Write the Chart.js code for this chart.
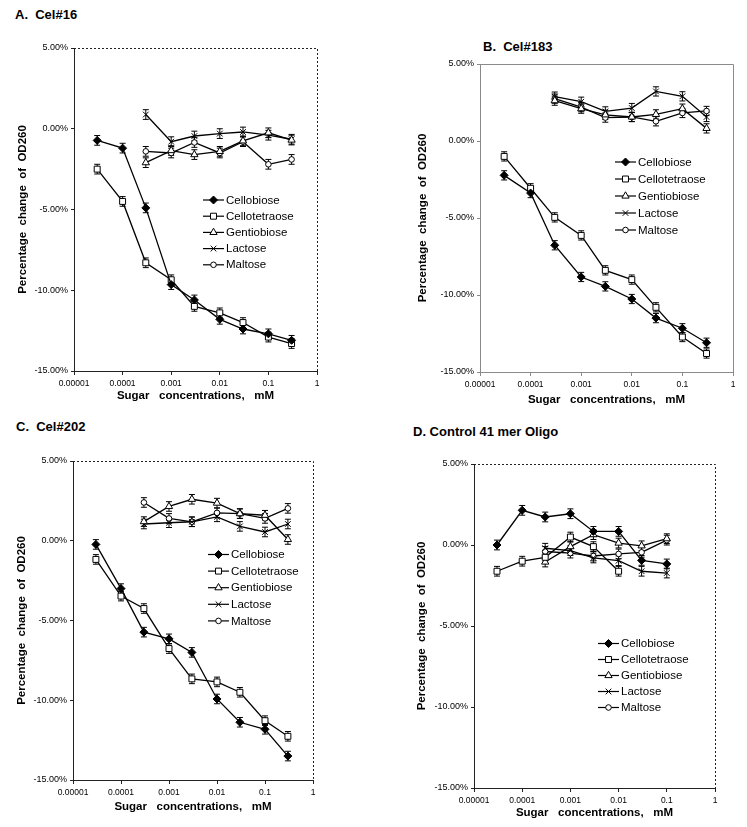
<!DOCTYPE html>
<html>
<head>
<meta charset="utf-8">
<script src="https://cdn.jsdelivr.net/npm/chart.js@4.4.1/dist/chart.umd.min.js"></script>
<style>
  body { margin: 0; background: #fff; width: 747px; height: 827px; position: relative; overflow: hidden;
         font-family: "Liberation Sans", Arial, sans-serif; }
  .panel-title { position: absolute; font-weight: bold; font-size: 13px; line-height: 16px; white-space: pre; color: #000; }
  canvas { position: absolute; }
</style>
</head>
<body>
<div class="panel-title" style="left:15px;top:7px">A.  Cel#16</div>
<div class="panel-title" style="left:483px;top:39px">B.  Cel#183</div>
<div class="panel-title" style="left:16px;top:419px">C.  Cel#202</div>
<div class="panel-title" style="left:413px;top:424px">D. Control 41 mer Oligo</div>

<canvas id="chartA" width="323" height="369" style="left:8px;top:40px"></canvas>
<canvas id="chartB" width="333" height="354" style="left:414px;top:56px"></canvas>
<canvas id="chartC" width="320" height="365" style="left:7px;top:453px"></canvas>
<canvas id="chartD" width="321" height="370" style="left:408px;top:456px"></canvas>

<script>
// konsentrasi gula (mM) dan label sumbu
const conc = [0.00003, 0.0001, 0.0003, 0.001, 0.003, 0.01, 0.03, 0.1, 0.3];
const concD = [0.00003, 0.0001, 0.0003, 0.001, 0.003, 0.01, 0.03, 0.1];
const sugars = ["Cellobiose", "Cellotetraose", "Gentiobiose", "Lactose", "Maltose"];
const xTickValues = [0.00001, 0.0001, 0.001, 0.01, 0.1, 1];
const xTickLabels = ["0.00001", "0.0001", "0.001", "0.01", "0.1", "1"];
const yTickValues = [5, 0, -5, -10, -15];
const yTickLabels = ["5.00%", "0.00%", "-5.00%", "-10.00%", "-15.00%"];
const errBar = 0.3; // setengah panjang error bar (% poin)

// A. Cel#16
const aCellobiose    = [-0.72, -1.2, -4.9, -9.65, -10.6, -11.8, -12.4, -12.7, -13.1];
const aCellotetraose = [-2.5, -4.5, -8.3, -9.35, -11.0, -11.4, -12.0, -12.9, -13.3];
const aGentiobiose   = [null, null, -2.1, -1.35, -1.6, -1.4, -0.75, -0.25, -0.7];
const aLactose       = [null, null, 0.88, -0.8, -0.45, -0.3, -0.2, -0.4, -0.65];
const aMaltose       = [null, null, -1.4, -1.5, -0.85, -1.5, -0.8, -2.2, -1.9];

// B. Cel#183
const bCellobiose    = [-2.23, -3.38, -6.77, -8.83, -9.44, -10.26, -11.5, -12.16, -13.1];
const bCellotetraose = [-1.0, -3.07, -4.96, -6.13, -8.4, -9.0, -10.8, -12.73, -13.8];
const bGentiobiose   = [null, null, 2.62, 2.1, 1.7, 1.56, 1.73, 2.1, 0.82];
const bLactose       = [null, null, 2.88, 2.55, 1.92, 2.14, 3.22, 2.9, 1.56];
const bMaltose       = [null, null, 2.75, 2.2, 1.52, 1.56, 1.28, 1.82, 1.95];

// C. Cel#202
const cCellobiose    = [-0.23, -3.0, -5.73, -6.15, -7.0, -9.92, -11.38, -11.82, -13.5];
const cCellotetraose = [-1.17, -3.47, -4.25, -6.76, -8.66, -8.85, -9.5, -11.28, -12.26];
const cGentiobiose   = [null, null, 1.2, 2.15, 2.6, 2.36, 1.7, 1.6, 0.08];
const cLactose       = [null, null, 1.05, 1.13, 1.19, 1.5, 0.9, 0.55, 1.05];
const cMaltose       = [null, null, 2.4, 1.4, 1.19, 1.75, 1.7, 1.4, 2.03];

// D. Control 41 mer Oligo
const dCellobiose    = [0.0, 2.14, 1.73, 1.93, 0.84, 0.84, -0.95, -1.17];
const dCellotetraose = [-1.62, -1.0, -0.76, 0.49, -0.1, -1.62, null, null];
const dGentiobiose   = [null, null, -1.05, -0.1, 0.64, 0.12, -0.05, 0.39];
const dLactose       = [null, null, -0.2, -0.35, -0.8, -0.97, -1.62, -1.73];
const dMaltose       = [null, null, -0.4, -0.5, -0.68, -0.55, -0.45, 0.3];

const FONT = "'Liberation Sans', Arial, sans-serif";
const markers = [
  { pointStyle: "rectRot", radius: 4, fill: "#000" },
  { pointStyle: "rect", radius: 4.2, fill: "#fff" },
  { pointStyle: "triangle", radius: 4.2, fill: "#fff" },
  { pointStyle: "crossRot", radius: 4, fill: "#000" },
  { pointStyle: "circle", radius: 2.8, fill: "#fff" },
];

// error bar kecil di tiap titik
const errorBars = {
  id: "errorBars",
  beforeDatasetsDraw(chart) {
    const { ctx } = chart;
    const ys = chart.scales.y;
    ctx.save();
    ctx.strokeStyle = "#000";
    ctx.lineWidth = 1;
    chart.data.datasets.forEach((ds, i) => {
      chart.getDatasetMeta(i).data.forEach((pt, j) => {
        const v = ds.data[j].y;
        const y1 = ys.getPixelForValue(v + errBar);
        const y2 = ys.getPixelForValue(v - errBar);
        ctx.beginPath();
        ctx.moveTo(pt.x, y1); ctx.lineTo(pt.x, y2);
        ctx.moveTo(pt.x - 3, y1); ctx.lineTo(pt.x + 3, y1);
        ctx.moveTo(pt.x - 3, y2); ctx.lineTo(pt.x + 3, y2);
        ctx.stroke();
      });
    });
    ctx.restore();
  },
};

// bingkai atas & kanan area plot
const frame = {
  id: "frame",
  beforeDatasetsDraw(chart, args, opts) {
    const { ctx, chartArea: a } = chart;
    ctx.save();
    ctx.strokeStyle = opts.color;
    ctx.lineWidth = 1;
    ctx.setLineDash(opts.dash || []);
    ctx.beginPath();
    ctx.moveTo(a.left, a.top + 0.5);
    ctx.lineTo(a.right + 0.5, a.top + 0.5);
    ctx.lineTo(a.right + 0.5, a.bottom);
    ctx.stroke();
    ctx.restore();
  },
};

// legenda di dalam area plot: garis + marker + teks
const insideLegend = {
  id: "insideLegend",
  afterDatasetsDraw(chart, args, opts) {
    const { ctx } = chart;
    const drawPoint = Chart.helpers && Chart.helpers.drawPoint;
    ctx.save();
    chart.data.datasets.forEach((ds, i) => {
      const y = opts.y + i * opts.gap;
      const x = opts.x;
      ctx.strokeStyle = "#000";
      ctx.lineWidth = 1.2;
      ctx.setLineDash([]);
      ctx.beginPath();
      ctx.moveTo(x, y); ctx.lineTo(x + 21, y);
      ctx.stroke();
      ctx.fillStyle = ds.pointBackgroundColor;
      ctx.lineWidth = 1;
      if (drawPoint) {
        drawPoint(ctx, { pointStyle: ds.pointStyle, radius: ds.pointRadius, borderWidth: 1, rotation: 0 }, x + 10.5, y);
      }
      ctx.fillStyle = "#000";
      ctx.font = "11.5px " + FONT;
      ctx.textBaseline = "middle";
      ctx.textAlign = "left";
      ctx.fillText(ds.label, x + 23, y + 0.5);
    });
    ctx.restore();
  },
};

function buatPanel(id, xs, seri, p) {
  const datasets = seri.map((vals, i) => ({
    label: sugars[i],
    data: xs.map((c, k) => ({ x: c, y: vals[k] })).filter((d) => d.y !== null),
    borderColor: "#000",
    borderWidth: 1.3,
    pointStyle: markers[i].pointStyle,
    pointRadius: markers[i].radius,
    pointBackgroundColor: markers[i].fill,
    pointBorderColor: "#000",
    pointBorderWidth: 1,
    tension: 0,
  }));

  const axisBorder = { color: p.axisColor, dash: p.dash || [], width: 1 };
  return new Chart(document.getElementById(id), {
    type: "line",
    data: { datasets },
    plugins: [errorBars, frame, insideLegend],
    options: {
      responsive: false,
      animation: false,
      devicePixelRatio: 1,
      layout: { padding: { top: 8, right: 14, left: 0, bottom: 0 } },
      plugins: {
        legend: { display: false },
        tooltip: { enabled: false },
        frame: { color: p.axisColor, dash: p.dash },
        insideLegend: p.legend,
      },
      scales: {
        x: {
          type: "logarithmic",
          min: 0.00001,
          max: 1,
          afterBuildTicks: (s) => { s.ticks = xTickValues.map((v) => ({ value: v })); },
          afterFit: (s) => { s.height = 38; s.paddingLeft = s.paddingRight = s.paddingTop = s.paddingBottom = 0; },
          ticks: {
            autoSkip: false, maxRotation: 0, padding: 4, color: "#000",
            font: { family: FONT, size: 8.5 },
            callback: (v) => xTickLabels[xTickValues.indexOf(v)],
          },
          grid: { drawOnChartArea: false, drawTicks: true, tickLength: 4, color: p.axisColor },
          border: axisBorder,
          title: {
            display: true, text: "Sugar   concentrations,   mM", color: "#000",
            font: { family: FONT, size: 11.5, weight: "bold", lineHeight: 1.2 },
            padding: { top: 0, bottom: p.xTitlePad },
          },
        },
        y: {
          min: -15,
          max: 5,
          afterBuildTicks: (s) => { s.ticks = yTickValues.map((v) => ({ value: v })); },
          afterFit: (s) => { s.width = 66; s.paddingLeft = s.paddingRight = s.paddingTop = s.paddingBottom = 0; },
          ticks: {
            autoSkip: false, padding: 3, color: "#000",
            font: { family: FONT, size: 9 },
            callback: (v) => yTickLabels[yTickValues.indexOf(v)],
          },
          grid: { drawOnChartArea: false, drawTicks: true, tickLength: 3, color: p.axisColor },
          border: axisBorder,
          title: {
            display: true, text: "Percentage  change  of  OD260", color: "#000",
            font: { family: FONT, size: 11.5, weight: "bold", lineHeight: 1.2 },
            padding: { top: p.yTitlePad, bottom: 0 },
          },
        },
      },
    },
  });
}

buatPanel("chartA", conc, [aCellobiose, aCellotetraose, aGentiobiose, aLactose, aMaltose], {
  axisColor: "#222", dash: [2, 2], xTitlePad: 6.1, yTitlePad: 8.1,
  legend: { x: 203 - 8, y: 200 - 40, gap: 16.2 },
});
buatPanel("chartB", conc, [bCellobiose, bCellotetraose, bGentiobiose, bLactose, bMaltose], {
  axisColor: "#8a8a8a", dash: [], xTitlePad: 3.1, yTitlePad: 2.1,
  legend: { x: 615 - 414, y: 162 - 56, gap: 17 },
});
buatPanel("chartC", conc, [cCellobiose, cCellotetraose, cGentiobiose, cLactose, cMaltose], {
  axisColor: "#222", dash: [2, 2], xTitlePad: 4.4, yTitlePad: 7.8,
  legend: { x: 208 - 7, y: 554.5 - 453, gap: 16.6 },
});
buatPanel("chartD", concD, [dCellobiose, dCellotetraose, dGentiobiose, dLactose, dMaltose], {
  axisColor: "#222", dash: [2, 2], xTitlePad: 6.4, yTitlePad: 6.8,
  legend: { x: 598 - 408, y: 643.5 - 456, gap: 16 },
});
</script>
</body>
</html>
